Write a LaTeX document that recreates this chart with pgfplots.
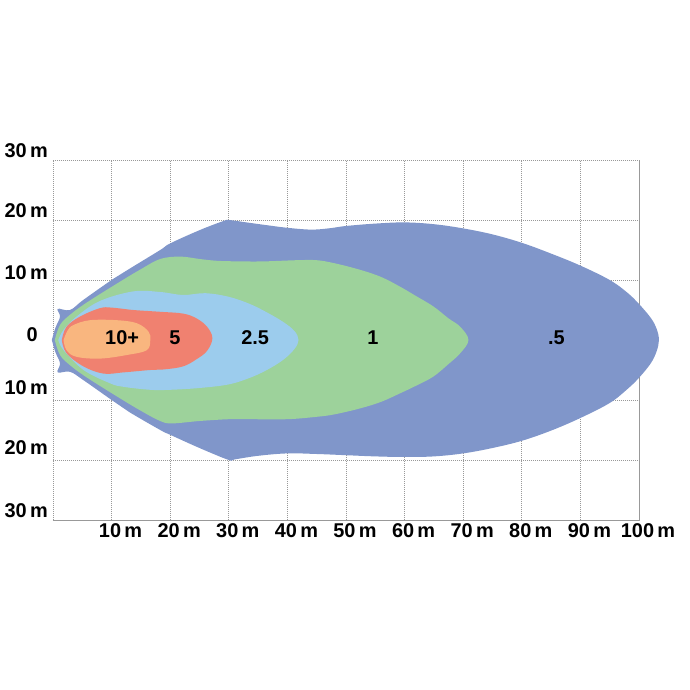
\documentclass[border=0pt]{standalone}
\usepackage{pgfplots}
\pgfplotsset{compat=1.18}
\usepackage{fontspec}
\setmainfont{Liberation Sans}
\definecolor{cblue}{RGB}{128,150,202}
\definecolor{cgreen}{RGB}{157,210,155}
\definecolor{clblue}{RGB}{156,204,237}
\definecolor{cred}{RGB}{240,129,112}
\definecolor{corange}{RGB}{249,182,127}
\begin{document}
\begin{tikzpicture}
\begin{axis}[
  at={(0,0)}, anchor=south west,
  scale only axis, width=586bp, height=360bp,
  xmin=0, xmax=100, ymin=-30, ymax=30,
  xtick={10,20,...,100},
  xticklabels={10\,m,20\,m,30\,m,40\,m,50\,m,60\,m,70\,m,80\,m,90\,m,100\,m},
  ytick={-30,-20,-10,0,10,20,30},
  yticklabels={\raisebox{3bp}{30\,m},\raisebox{5bp}{20\,m},\raisebox{5bp}{10\,m},\raisebox{-2bp}{0\hspace{10bp}},\raisebox{0bp}{10\,m},\raisebox{2bp}{20\,m},\raisebox{2bp}{30\,m}},
  ticklabel style={font=\fontsize{20}{22}\selectfont\bfseries, inner sep=0pt},
  xticklabel style={anchor=north, xshift=9bp, yshift=-3bp},
  yticklabel style={anchor=base east, xshift=-5bp},
  major tick length=0pt,
  grid=major,
  major grid style={dash pattern=on 1.2bp off 0.8bp, color=gray!80, line width=0.8bp},
  axis line style={dash pattern=on 1.2bp off 0.8bp, color=gray!80, line width=0.8bp},
  clip=false,
]
% .5
\addplot[fill=cblue, draw=none, smooth, tension=0.6] coordinates {
(-0.2,0) (0.4,2) (1.2,3.9) (0.8,5.2) (2.9,5.0) (5.2,6.7) (10.3,10.2) (13.1,11.9)
(18.3,15) (20,16.1) (25,18.3) (29,19.8) (30,20) (33,19.6) (36,19.2) (40,18.7)
(44,18.4) (47,18.6) (50,19) (55,19.4) (60,19.6) (65,19.3) (70,18.6) (75,17.6)
(80,16.2) (85,14.4) (90,12.4) (95,10) (98,7.9) (100,6) (102,3.7) (103,1.9) (103.4,0)
(103,-1.9) (102,-3.9) (100,-6.3) (98,-8.2) (95,-10.5) (90,-13) (85,-15.1) (80,-16.8)
(75,-18) (70,-18.9) (65,-19.4) (60,-19.5) (55,-19.4) (50,-19.2) (45,-19) (40,-18.9)
(35,-19.3) (31,-19.9) (30,-20) (25,-18) (20,-15.8) (18.3,-15) (13,-12)
(10.3,-10.2) (5.2,-6.7) (2.9,-5.3) (0.8,-5.4) (1.2,-3.9) (0.4,-2) (-0.2,0)
};
% 1
\addplot[fill=cgreen, draw=none, smooth, tension=0.6] coordinates {
(0.3,0) (1.2,2.5) (2.9,4.2) (5.7,6.2) (10.9,9.4) (15,11.8) (18.3,13.5) (21.7,13.9)
(25,13.5) (28,13.2) (32,13.1) (36,13.1) (41.6,13.3) (45,13.3) (48,12.8) (52.4,11.7)
(56,10.5) (59.2,8.9) (62,7.3) (64.9,5.6) (67.5,3.6) (69.5,2.2) (70.9,0)
(69.5,-2.2) (67.5,-4) (64.9,-6.1) (62,-7.6) (59.2,-8.9) (56,-10.3) (52.4,-11.4)
(48,-12.4) (45,-12.8) (40,-13.2) (33.6,-13.2) (30,-13.2) (25,-13.5) (20.3,-13.9)
(18.3,-13.5) (15,-11.8) (10.9,-9.4) (5.7,-6.2) (2.9,-4.2) (1.2,-2.5) (0.3,0)
};
% 2.5
\addplot[fill=clblue, draw=none, smooth, tension=0.6] coordinates {
(0.9,0) (1.8,1.7) (4,3.9) (8,6.5) (13.7,8.1) (18.3,8) (22.2,7.5) (26,7.8) (30,7.2)
(33.6,6) (36.5,4.6) (39.3,3) (41.2,1.5) (41.9,0) (41.2,-1.5) (39.3,-3.3) (36.5,-5)
(33.6,-6.3) (30,-7.4) (25,-8) (20,-8.3) (16.6,-8.3) (12,-7.8) (9.7,-7.2) (5.2,-5)
(1.8,-1.7) (0.9,0)
};
% 5
\addplot[fill=cred, draw=none, smooth, tension=0.6] coordinates {
(1.5,0) (2.3,2.2) (4.6,3.9) (8,5.3) (10,5.4) (13.7,5) (18.3,4.7) (22.2,4.4) (24.5,3.6)
(26.3,2.2) (27.2,0.3) (26.3,-1.8) (24.5,-3.2) (22.2,-4.4) (19,-4.9) (16.6,-5.0)
(12,-5.4) (8.6,-5.6) (5.2,-4.4) (2.3,-2.2) (1.5,0)
};
% 10+
\addplot[fill=corange, draw=none, smooth, tension=0.6] coordinates {
(1.8,0) (2.5,1.6) (3.5,2.5) (6.3,3.3) (10.9,3.3) (14.3,2.8) (16.3,1.4) (16.6,0)
(16,-1.7) (12.6,-2.5) (8,-3.1) (4,-2.8) (2.3,-1.7) (1.8,0)
};
\begin{scope}[every node/.style={font=\fontsize{20}{22}\selectfont\bfseries}]
\node at (axis cs:11.8,0.4) {10+};
\node at (axis cs:20.8,0.4) {5};
\node at (axis cs:34.5,0.4) {2.5};
\node at (axis cs:54.6,0.4) {1};
\node at (axis cs:85.9,0.4) {.5};
\end{scope}
\end{axis}
\path (-53bp,-170bp) rectangle (637bp,520bp);
\end{tikzpicture}
\end{document}
